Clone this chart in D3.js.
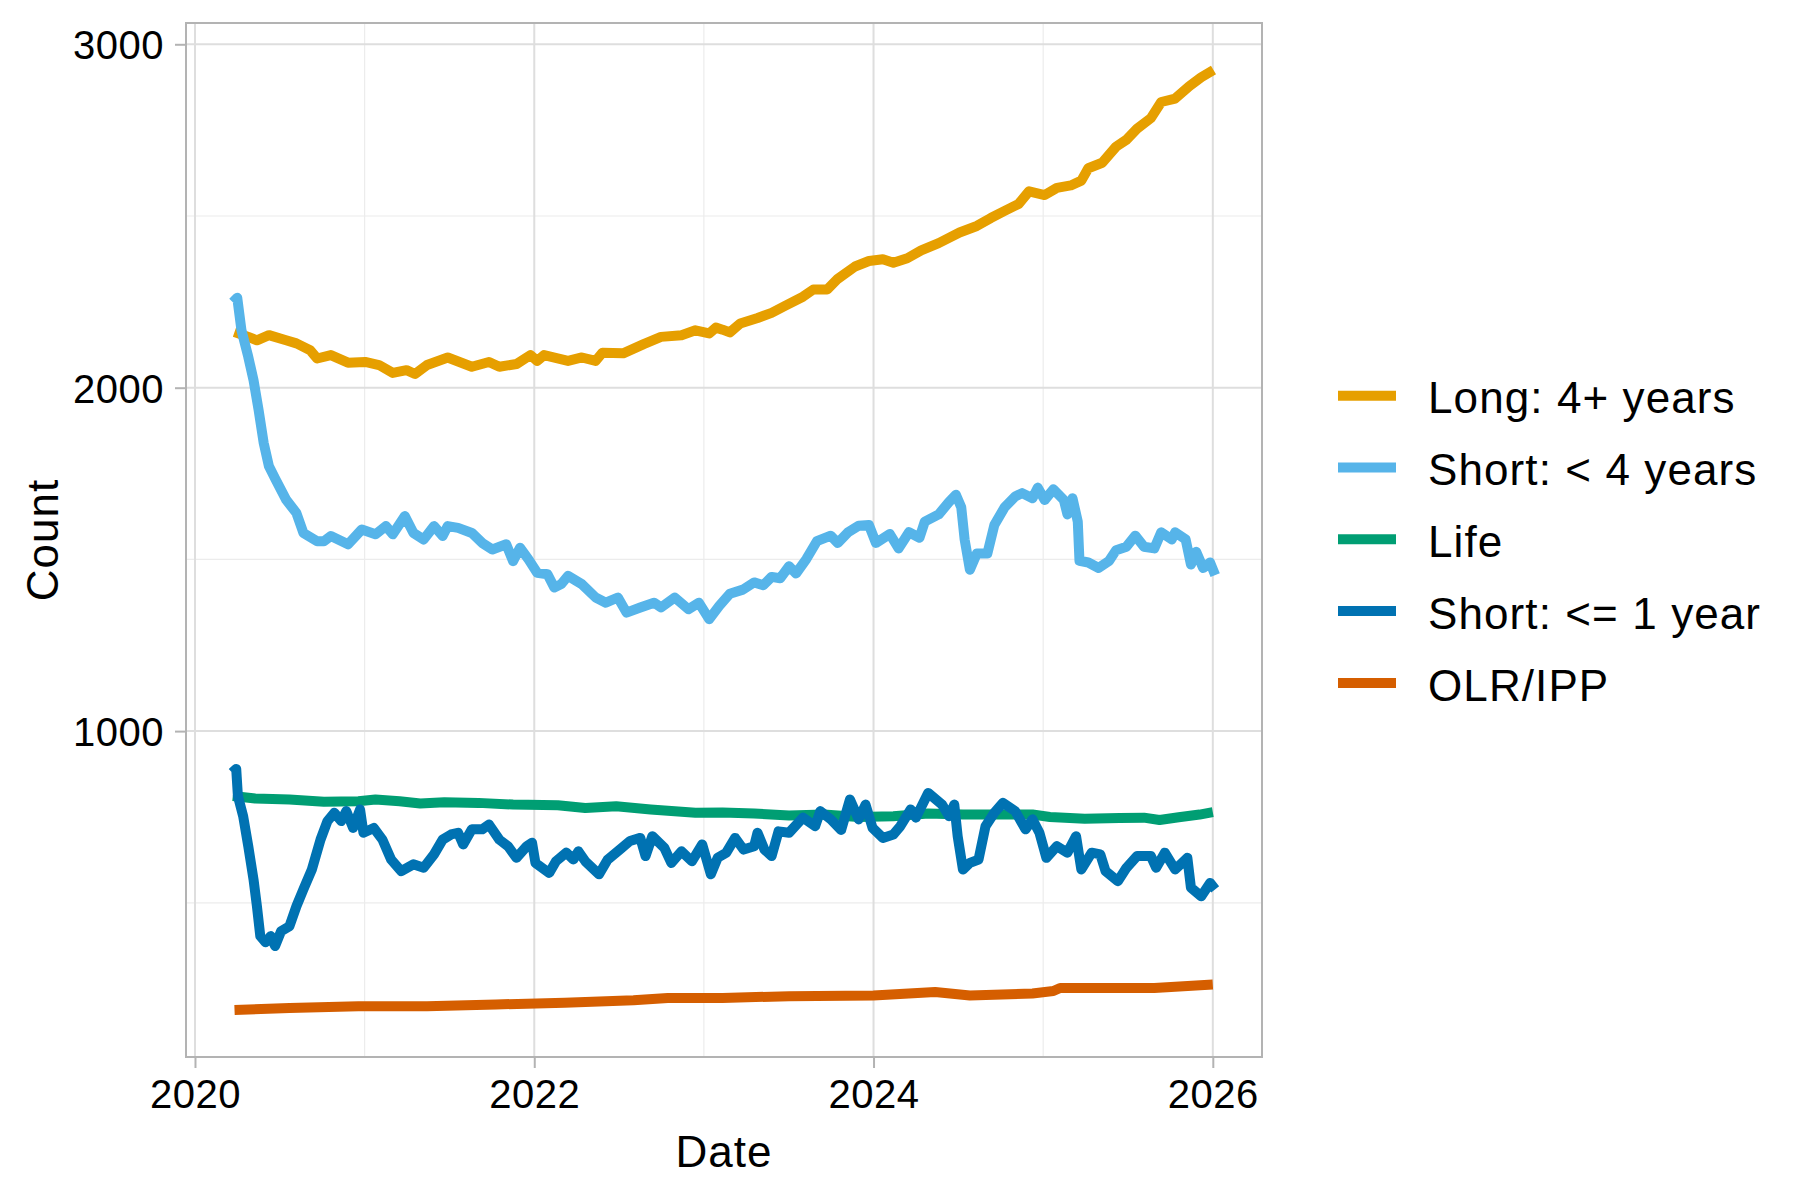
<!DOCTYPE html>
<html>
<head>
<meta charset="utf-8">
<script src="https://cdn.jsdelivr.net/npm/d3@7/dist/d3.min.js"></script>
<style>
  html, body { margin: 0; padding: 0; background: #ffffff; }
  svg { display: block; font-family: "Liberation Sans", Arial, sans-serif; }
</style>
</head>
<body>
<svg id="chart" width="1800" height="1200"></svg>
<script>
// ---- Data (year as decimal, count) ----
const seriesNames = ["Long: 4+ years", "Short: < 4 years", "Life", "Short: <= 1 year", "OLR/IPP"];
const seriesColors = ["#E69F00", "#56B4E9", "#009E73", "#0072B2", "#D55E00"];
const xTickValues = [2020, 2022, 2024, 2026];
const yTickValues = [1000, 2000, 3000];
const xMinorTicks = [2021, 2023, 2025];
const yMinorTicks = [500, 1500, 2500];

const longData = [
  [2020.233,2162],[2020.314,2148],[2020.365,2138],[2020.436,2153],[2020.537,2138],[2020.598,2129],
  [2020.679,2109],[2020.720,2085],[2020.801,2095],[2020.902,2073],[2021.003,2075],[2021.085,2066],
  [2021.166,2043],[2021.247,2051],[2021.297,2040],[2021.368,2066],[2021.490,2088],[2021.632,2061],
  [2021.733,2075],[2021.794,2061],[2021.896,2069],[2021.977,2095],[2022.017,2078],[2022.058,2095],
  [2022.199,2078],[2022.281,2088],[2022.362,2078],[2022.402,2102],[2022.524,2100],[2022.645,2127],
  [2022.747,2148],[2022.868,2153],[2022.950,2167],[2023.031,2158],[2023.071,2175],[2023.110,2169],
  [2023.153,2161],[2023.214,2187],[2023.317,2203],[2023.399,2218],[2023.481,2239],[2023.584,2265],
  [2023.645,2286],[2023.727,2286],[2023.789,2317],[2023.891,2353],[2023.973,2369],[2024.055,2374],
  [2024.117,2364],[2024.199,2377],[2024.281,2400],[2024.384,2421],[2024.507,2452],[2024.609,2471],
  [2024.691,2494],[2024.773,2515],[2024.855,2535],[2024.917,2572],[2025.009,2561],[2025.081,2582],
  [2025.163,2589],[2025.225,2603],[2025.266,2639],[2025.348,2655],[2025.430,2702],[2025.491,2722],
  [2025.553,2754],[2025.635,2785],[2025.696,2832],[2025.778,2842],[2025.861,2878],[2025.932,2904],
  [2026.004,2925]
];

const short4Data = [
  [2020.223,2249],[2020.249,2262],[2020.274,2167],[2020.314,2090],[2020.345,2022],[2020.375,1935],
  [2020.405,1839],[2020.436,1771],[2020.476,1732],[2020.537,1674],[2020.598,1635],[2020.639,1577],
  [2020.720,1553],[2020.760,1553],[2020.801,1568],[2020.902,1544],[2020.983,1587],[2021.064,1573],
  [2021.125,1597],[2021.166,1573],[2021.237,1626],[2021.288,1577],[2021.348,1558],[2021.409,1597],
  [2021.460,1568],[2021.490,1597],[2021.551,1592],[2021.632,1577],[2021.693,1548],[2021.753,1529],
  [2021.835,1544],[2021.875,1495],[2021.916,1534],[2021.966,1500],[2022.017,1461],[2022.078,1457],
  [2022.118,1418],[2022.159,1428],[2022.199,1452],[2022.280,1428],[2022.362,1389],[2022.422,1374],
  [2022.493,1389],[2022.544,1345],[2022.625,1360],[2022.706,1374],[2022.747,1360],[2022.828,1389],
  [2022.909,1355],[2022.970,1374],[2023.031,1326],[2023.091,1365],[2023.153,1400],[2023.230,1412],
  [2023.296,1433],[2023.350,1425],[2023.399,1449],[2023.450,1445],[2023.502,1480],[2023.543,1459],
  [2023.604,1501],[2023.666,1553],[2023.748,1569],[2023.789,1548],[2023.850,1579],[2023.912,1598],
  [2023.973,1600],[2024.014,1548],[2024.096,1574],[2024.148,1532],[2024.209,1579],[2024.271,1563],
  [2024.302,1610],[2024.384,1631],[2024.445,1667],[2024.486,1688],[2024.517,1652],[2024.537,1558],
  [2024.568,1470],[2024.609,1517],[2024.671,1517],[2024.712,1600],[2024.773,1652],[2024.835,1683],
  [2024.876,1693],[2024.937,1678],[2024.968,1709],[2025.009,1673],[2025.060,1704],[2025.122,1673],
  [2025.143,1631],[2025.173,1678],[2025.204,1610],[2025.214,1496],[2025.266,1491],[2025.327,1475],
  [2025.389,1496],[2025.430,1527],[2025.491,1537],[2025.543,1569],[2025.594,1537],[2025.655,1532],
  [2025.696,1579],[2025.758,1558],[2025.778,1579],[2025.840,1558],[2025.871,1485],[2025.902,1522],
  [2025.943,1475],[2025.984,1491],[2026.014,1454]
];

const lifeData = [
  [2020.223,811],[2020.355,804],[2020.557,801],[2020.760,794],[2020.963,796],[2021.064,801],
  [2021.206,796],[2021.328,789],[2021.470,793],[2021.672,791],[2021.875,786],[2022.139,784],
  [2022.301,776],[2022.483,781],[2022.686,772],[2022.950,762],[2023.110,763],[2023.296,760],
  [2023.502,754],[2023.707,757],[2023.912,750],[2024.117,752],[2024.322,760],[2024.527,757],
  [2024.732,757],[2024.937,757],[2025.040,750],[2025.245,745],[2025.450,747],[2025.594,748],
  [2025.686,741],[2025.799,749],[2025.922,757],[2026.000,764]
];

const short1Data = [
  [2020.219,879],[2020.243,890],[2020.253,811],[2020.284,752],[2020.314,665],[2020.345,568],
  [2020.365,490],[2020.385,403],[2020.416,385],[2020.446,403],[2020.472,374],[2020.507,417],
  [2020.557,432],[2020.598,490],[2020.639,539],[2020.689,597],[2020.740,684],[2020.781,738],
  [2020.821,762],[2020.862,738],[2020.892,767],[2020.932,718],[2020.973,772],[2020.993,704],
  [2021.054,718],[2021.105,684],[2021.156,626],[2021.216,592],[2021.287,612],[2021.348,602],
  [2021.409,641],[2021.460,684],[2021.510,699],[2021.551,704],[2021.581,670],[2021.632,714],
  [2021.693,714],[2021.733,728],[2021.794,684],[2021.845,665],[2021.895,631],[2021.956,665],
  [2021.987,675],[2022.007,616],[2022.088,587],[2022.128,621],[2022.189,646],[2022.230,626],
  [2022.260,650],[2022.301,621],[2022.382,583],[2022.433,626],[2022.504,655],[2022.564,680],
  [2022.625,689],[2022.656,636],[2022.696,694],[2022.767,660],[2022.808,616],[2022.868,650],
  [2022.929,621],[2022.990,670],[2023.041,583],[2023.081,631],[2023.132,646],[2023.184,689],
  [2023.234,655],[2023.296,665],[2023.316,704],[2023.357,655],[2023.399,636],[2023.440,708],
  [2023.502,704],[2023.584,748],[2023.656,723],[2023.686,767],[2023.748,743],[2023.809,712],
  [2023.861,801],[2023.912,743],[2023.953,786],[2023.994,718],[2024.055,689],[2024.117,699],
  [2024.158,723],[2024.219,772],[2024.250,748],[2024.322,820],[2024.404,786],[2024.445,752],
  [2024.476,786],[2024.496,694],[2024.527,597],[2024.568,616],[2024.619,626],[2024.660,723],
  [2024.712,762],[2024.763,791],[2024.835,767],[2024.896,714],[2024.937,743],[2024.978,704],
  [2025.019,631],[2025.081,665],[2025.143,646],[2025.194,694],[2025.225,597],[2025.286,646],
  [2025.337,641],[2025.368,592],[2025.440,563],[2025.491,602],[2025.553,636],[2025.635,636],
  [2025.666,602],[2025.717,646],[2025.778,597],[2025.850,631],[2025.871,544],[2025.932,519],
  [2025.984,558],[2026.014,539]
];

const olrData = [
  [2020.233,188],[2020.557,194],[2020.963,199],[2021.368,199],[2021.774,204],[2022.179,209],
  [2022.585,216],[2022.787,223],[2023.110,223],[2023.502,228],[2024.000,230],[2024.363,240],
  [2024.568,230],[2024.937,236],[2025.060,243],[2025.100,252],[2025.655,252],[2026.000,262]
];

const seriesData = [longData, short4Data, lifeData, short1Data, olrData];

// ---- Layout ----
const svg = d3.select("#chart");
const panel = { left: 186, right: 1262, top: 23, bottom: 1057 };

const x = d3.scaleLinear().domain([2019.947, 2026.29]).range([panel.left, panel.right]);
const y = d3.scaleLinear().domain([51, 3062]).range([panel.bottom, panel.top]);

// Minor gridlines
svg.append("g").selectAll("line").data(yMinorTicks).join("line")
  .attr("x1", panel.left).attr("x2", panel.right)
  .attr("y1", d => y(d)).attr("y2", d => y(d))
  .attr("stroke", "#ececec").attr("stroke-width", 1.2);
svg.append("g").selectAll("line").data(xMinorTicks).join("line")
  .attr("y1", panel.top).attr("y2", panel.bottom)
  .attr("x1", d => x(d)).attr("x2", d => x(d))
  .attr("stroke", "#ececec").attr("stroke-width", 1.2);

// Major gridlines
svg.append("g").selectAll("line").data(yTickValues).join("line")
  .attr("x1", panel.left).attr("x2", panel.right)
  .attr("y1", d => y(d)).attr("y2", d => y(d))
  .attr("stroke", "#dedede").attr("stroke-width", 2);
svg.append("g").selectAll("line").data(xTickValues).join("line")
  .attr("y1", panel.top).attr("y2", panel.bottom)
  .attr("x1", d => x(d)).attr("x2", d => x(d))
  .attr("stroke", "#dedede").attr("stroke-width", 2);

// Lines
const line = d3.line().x(d => x(d[0])).y(d => y(d[1]));
svg.append("clipPath").attr("id", "clip").append("rect")
  .attr("x", panel.left).attr("y", panel.top)
  .attr("width", panel.right - panel.left).attr("height", panel.bottom - panel.top);

const gLines = svg.append("g").attr("clip-path", "url(#clip)");
seriesData.forEach((data, i) => {
  gLines.append("path")
    .datum(data)
    .attr("d", line)
    .attr("fill", "none")
    .attr("stroke", seriesColors[i])
    .attr("stroke-width", 10)
    .attr("stroke-linejoin", "round")
    .attr("stroke-linecap", "butt");
});

// Panel border
svg.append("rect")
  .attr("x", panel.left).attr("y", panel.top)
  .attr("width", panel.right - panel.left).attr("height", panel.bottom - panel.top)
  .attr("fill", "none").attr("stroke", "#b3b3b3").attr("stroke-width", 2);

// Axes
const xAxis = d3.axisBottom(x).tickValues(xTickValues).tickFormat(d3.format("d"))
  .tickSize(11).tickPadding(12);
const gx = svg.append("g").attr("transform", `translate(0,${panel.bottom})`).call(xAxis);
gx.select(".domain").remove();
gx.selectAll(".tick line").attr("stroke", "#b3b3b3").attr("stroke-width", 2);
gx.selectAll(".tick text").attr("font-size", 40).attr("fill", "#000")
  .attr("letter-spacing", "0.5px")
  .attr("font-family", "Liberation Sans, Arial, sans-serif");

const yAxis = d3.axisLeft(y).tickValues(yTickValues).tickFormat(d3.format("d"))
  .tickSize(11).tickPadding(11);
const gy = svg.append("g").attr("transform", `translate(${panel.left},0)`).call(yAxis);
gy.select(".domain").remove();
gy.selectAll(".tick line").attr("stroke", "#b3b3b3").attr("stroke-width", 2);
gy.selectAll(".tick text").attr("font-size", 40).attr("fill", "#000")
  .attr("letter-spacing", "0.5px")
  .attr("font-family", "Liberation Sans, Arial, sans-serif")
  .attr("dy", "0.36em");

// Axis titles
svg.append("text")
  .attr("x", (panel.left + panel.right) / 2).attr("y", 1167)
  .attr("text-anchor", "middle").attr("font-size", 44).attr("fill", "#000")
  .attr("letter-spacing", "1px")
  .text("Date");
svg.append("text")
  .attr("transform", `translate(58,${(panel.top + panel.bottom) / 2}) rotate(-90)`)
  .attr("text-anchor", "middle").attr("font-size", 44).attr("fill", "#000")
  .attr("letter-spacing", "1px")
  .text("Count");

// Legend
const legendY0 = 395.7, legendStep = 71.8;
const gLeg = svg.append("g");
seriesNames.forEach((name, i) => {
  const ly = legendY0 + i * legendStep;
  gLeg.append("line")
    .attr("x1", 1338).attr("x2", 1396).attr("y1", ly).attr("y2", ly)
    .attr("stroke", seriesColors[i]).attr("stroke-width", 10);
  gLeg.append("text")
    .attr("x", 1428).attr("y", ly + 17.6)
    .attr("font-size", 44).attr("fill", "#000")
    .attr("letter-spacing", "1.1px")
    .text(name);
});
</script>
</body>
</html>
